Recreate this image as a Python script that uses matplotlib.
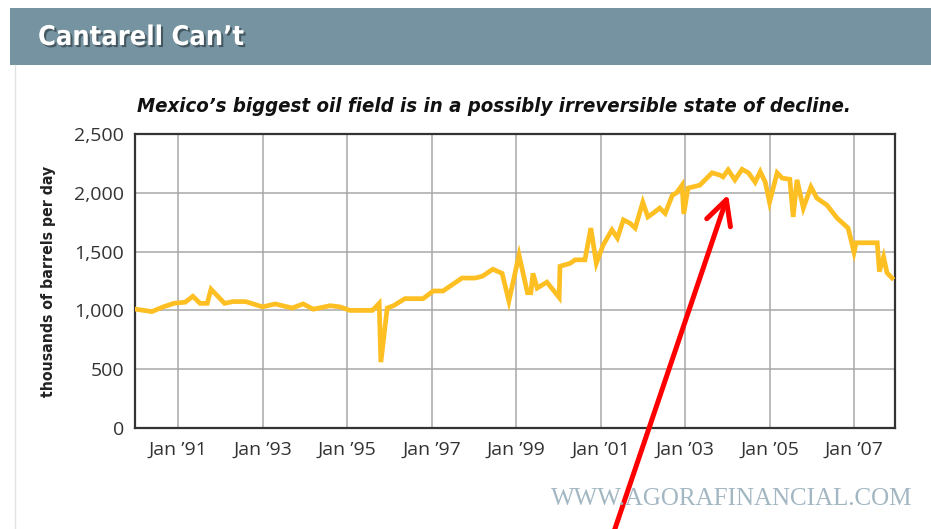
import matplotlib.pyplot as plt
import matplotlib.patheffects as pe
from matplotlib.patches import Rectangle
from matplotlib.lines import Line2D

# Cantarell output, thousands of barrels per day
years = [1990.0, 1990.38, 1990.65, 1990.9, 1991.17, 1991.35, 1991.52, 1991.69, 1991.78,
         1992.1, 1992.3, 1992.6, 1993.0, 1993.3, 1993.7, 1993.96, 1994.2, 1994.6, 1994.83,
         1995.07, 1995.6, 1995.76, 1995.8, 1995.95, 1996.1, 1996.37, 1996.8, 1997.04,
         1997.27, 1997.72, 1998.03, 1998.2, 1998.45, 1998.67, 1998.83, 1999.07, 1999.27,
         1999.35, 1999.4, 1999.5, 1999.73, 2000.02, 2000.04, 2000.28, 2000.4, 2000.63,
         2000.77, 2000.9, 2001.06, 2001.27, 2001.4, 2001.54, 2001.7, 2001.82, 2002.0,
         2002.12, 2002.24, 2002.4, 2002.53, 2002.7, 2002.8, 2002.93, 2002.97, 2003.07,
         2003.35, 2003.64, 2003.83, 2003.9, 2004.02, 2004.18, 2004.35, 2004.5, 2004.66,
         2004.78, 2004.9, 2005.0, 2005.18, 2005.3, 2005.48, 2005.56, 2005.65, 2005.8,
         2005.98, 2006.12, 2006.36, 2006.6, 2006.86, 2007.0, 2007.05, 2007.55, 2007.6,
         2007.7, 2007.78, 2007.9]
output = [1010, 990, 1030, 1060, 1070, 1120, 1060, 1060, 1180,
          1060, 1075, 1075, 1030, 1055, 1020, 1055, 1010, 1040, 1030,
          1000, 1000, 1060, 560, 1020, 1040, 1100, 1100, 1165,
          1165, 1275, 1275, 1290, 1350, 1315, 1080, 1470, 1150,
          1150, 1315, 1190, 1240, 1110, 1375, 1400, 1430, 1430,
          1700, 1400, 1555, 1685, 1615, 1770, 1740, 1700, 1920,
          1795, 1825, 1870, 1825, 1980, 2000, 2065, 1820, 2040,
          2065, 2170, 2150, 2135, 2195, 2110, 2200, 2170, 2090,
          2180, 2090, 1920, 2170, 2125, 2115, 1795, 2110, 1870,
          2050, 1955, 1895, 1785, 1700, 1495, 1575, 1575, 1330,
          1455, 1320, 1275]

tick_years = [1991, 1993, 1995, 1997, 1999, 2001, 2003, 2005, 2007]
tick_labels = ["Jan \u2019" + str(y)[2:] for y in tick_years]
y_ticks = [0, 500, 1000, 1500, 2000, 2500]
y_labels = ["0", "500", "1,000", "1,500", "2,000", "2,500"]

# arrow pointing at the peak
arrow_tip = (2004.02, 1985)
arrow_tail = (2001.30, -900)

fig = plt.figure(figsize=(9.31, 5.29), dpi=100)
fig.patch.set_facecolor('white')

# header band
fig.patches.append(Rectangle((10 / 931, 1 - 65 / 529), 1, 57 / 529,
                             transform=fig.transFigure, facecolor='#7593a0',
                             edgecolor='none', zorder=0))
fig.lines.append(Line2D([15 / 931, 15 / 931], [0, 1 - 65 / 529], transform=fig.transFigure,
                        color='#e2e2e2', lw=1))
fig.text(38 / 931, 1 - 38 / 529, "Cantarell Can\u2019t", color='white', fontsize=19.5,
         fontweight='bold', family='DejaVu Sans', fontstretch='condensed',
         va='center', ha='left',
         path_effects=[pe.withSimplePatchShadow(offset=(1.5, -1.5), shadow_rgbFace='#3a4a52', alpha=0.8)])

fig.text(494 / 931, 1 - 106 / 529,
         "Mexico\u2019s biggest oil field is in a possibly irreversible state of decline.",
         fontsize=14.6, fontweight='bold', fontstyle='italic', family='DejaVu Sans',
         fontstretch='condensed', ha='center', va='center', color='#111111')

ax = fig.add_axes([135 / 931, 1 - 428 / 529, 760 / 931, 294 / 529])
ax.plot(years, output, color='#fdbf22', lw=3.4, solid_joinstyle='miter', zorder=3)

ax.set_xlim(1989.98, 2007.97)
ax.set_ylim(0, 2500)
ax.set_xticks(tick_years)
ax.set_xticklabels(tick_labels)
ax.set_yticks(y_ticks)
ax.set_yticklabels(y_labels)
ax.tick_params(length=0, labelsize=14, labelcolor='#333333')
ax.tick_params(axis='x', pad=9)
ax.tick_params(axis='y', pad=8)
for lab in ax.get_xticklabels() + ax.get_yticklabels():
    lab.set_family(['Open Sans', 'DejaVu Sans'])
ax.grid(True, color='#a8a8a8', lw=1.1)
ax.set_axisbelow(True)
for s in ax.spines.values():
    s.set_color('#333333')
    s.set_linewidth(1.6)
ax.set_ylabel("thousands of barrels per day", fontsize=11.3, fontweight='bold',
              family='DejaVu Sans', fontstretch='condensed', color='#222222', labelpad=13)

ax.annotate("", xy=arrow_tip, xytext=arrow_tail, xycoords='data', textcoords='data',
            annotation_clip=False,
            arrowprops=dict(arrowstyle='->,head_length=1.75,head_width=0.9',
                            color='#ff0000', lw=3.6, mutation_scale=10,
                            shrinkA=0, shrinkB=0))

fig.text(912 / 931, 1 - 499 / 529, "WWW.AGORAFINANCIAL.COM", fontsize=18,
         family=['Liberation Serif', 'DejaVu Serif'], color='#a3b7c3',
         ha='right', va='center')

fig.savefig('out.png', dpi=100)
